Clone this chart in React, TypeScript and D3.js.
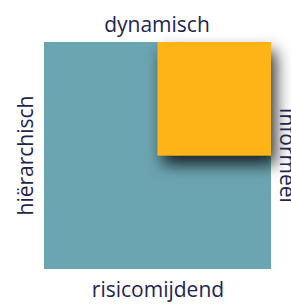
import React from "react";
import * as d3 from "d3";

const cols = ["left", "right"];
const rows = ["top", "bottom"];
const highlighted = { col: "right", row: "top" };
const axisLabels = ["dynamisch", "informeel", "risicomijdend", "hiërarchisch"];

const W = 291;
const H = 304;
const TEAL = "#6ba5b1";
const ORANGE = "#fdb414";
const TEXT = "#1e2550";

export default function App() {
  const x = d3.scaleBand<string>().domain(cols).range([44, 271]).padding(0);
  const y = d3.scaleBand<string>().domain(rows).range([42, 269]).padding(0);
  const x0 = x.range()[0], x1 = x.range()[1];
  const y0 = y.range()[0], y1 = y.range()[1];
  const cx = (x0 + x1) / 2;
  const cy = (y0 + y1) / 2;
  const font = "'Open Sans', sans-serif";
  const fs = 21;
  return (
    <svg width={W} height={H} style={{ position: "absolute", left: 0, top: 0 }}>
      <defs>
        <filter id="sh" x="-50%" y="-50%" width="200%" height="200%">
          <feDropShadow dx={5} dy={9} stdDeviation={8} floodColor="#000" floodOpacity={0.8} />
        </filter>
      </defs>
      <rect x={x0} y={y0} width={x1 - x0} height={y1 - y0} fill={TEAL} />
      <rect
        x={x(highlighted.col)}
        y={y(highlighted.row)}
        width={x.bandwidth()}
        height={y.bandwidth()}
        fill={ORANGE}
        filter="url(#sh)"
      />
      <g fill={TEXT} fontFamily={font} fontSize={fs} textAnchor="middle">
        <text x={cx - 0.5} y={32}>{axisLabels[0]}</text>
        <text transform={`translate(280,${cy}) rotate(90)`}>{axisLabels[1]}</text>
        <text x={cx + 0.5} y={297}>{axisLabels[2]}</text>
        <text transform={`translate(33,${cy}) rotate(-90)`}>{axisLabels[3]}</text>
      </g>
    </svg>
  );
}
